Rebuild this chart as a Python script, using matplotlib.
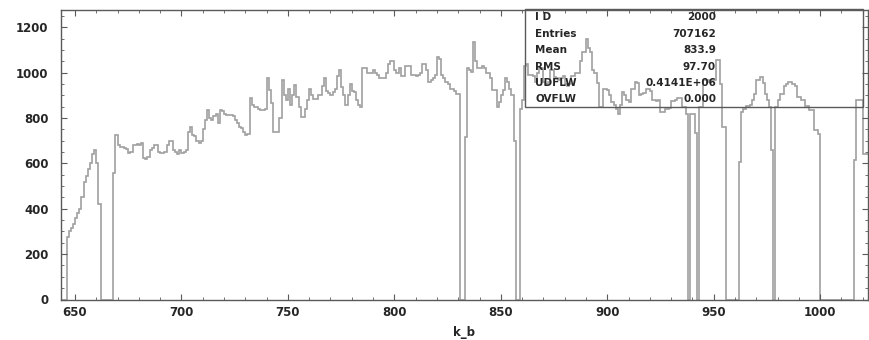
import numpy as np
import matplotlib
matplotlib.use("Agg")
import matplotlib.pyplot as plt
from matplotlib.ticker import MultipleLocator
from matplotlib.patches import Rectangle

# ---- data -------------------------------------------------------------
bin_start = 643          # lower edge of first bin (k_b)
bin_width = 1
counts = [
    0, 0, 0, 275, 300, 315, 335, 360, 380, 400,                 # 643-652
    450, 520, 545, 575, 600, 640, 660, 600, 420, 0,             # 653-662
    0, 0, 0, 0, 0, 556, 724, 680, 672, 672,                     # 663-672
    670, 665, 645, 650, 680, 680, 685, 680, 690, 625,           # 673-682
    620, 630, 660, 670, 680, 680, 650, 645, 645, 650,           # 683-692
    680, 700, 700, 658, 650, 640, 660, 645, 650, 660,           # 693-702
    740, 760, 725, 720, 700, 690, 700, 750, 790, 835,           # 703-712
    800, 790, 810, 820, 780, 835, 830, 820, 815, 815,           # 713-722
    815, 810, 790, 780, 760, 755, 740, 725, 730, 890,           # 723-732
    860, 850, 850, 840, 835, 835, 840, 975, 925, 865,           # 733-742
    740, 740, 740, 800, 970, 900, 880, 930, 856, 900,           # 743-752
    945, 893, 850, 805, 805, 840, 880, 930, 900, 885,           # 753-762
    885, 900, 900, 940, 975, 920, 910, 900, 915, 930,           # 763-772
    985, 1010, 937, 900, 860, 900, 950, 920, 915, 880,          # 773-782
    860, 850, 1020, 1020, 1000, 1000, 1000, 1010, 1000, 990,    # 783-792
    975, 975, 975, 1000, 1040, 1050, 1050, 1010, 1000, 1020,    # 793-802
    985, 985, 1030, 1030, 1030, 988, 990, 985, 990, 1000,       # 803-812
    1040, 1040, 1010, 960, 970, 975, 988, 1070, 1060, 990,      # 813-822
    975, 960, 950, 930, 930, 920, 905, 905, 0, 0,               # 823-832
    716, 1020, 1010, 1005, 1136, 1050, 1020, 1020, 1030, 1020,  # 833-842
    1000, 1000, 975, 925, 925, 850, 870, 900, 925, 975,         # 843-852
    960, 930, 900, 700, 0, 0, 840, 880, 1030, 1040,             # 853-862
    990, 990, 985, 960, 1000, 1020, 1020, 960, 950, 960,        # 863-872
    1010, 1010, 980, 975, 970, 975, 985, 950, 940, 950,         # 873-882
    985, 985, 1000, 1000, 1050, 1092, 1092, 1150, 1110, 1092,   # 883-892
    1010, 1000, 955, 849, 849, 930, 930, 925, 900, 870,         # 893-902
    860, 840, 820, 860, 915, 900, 880, 870, 930, 930,           # 903-912
    960, 955, 900, 905, 910, 930, 930, 920, 880, 880,           # 913-922
    875, 880, 825, 825, 840, 840, 845, 875, 875, 880,           # 923-932
    890, 890, 850, 850, 820, 0, 820, 820, 733, 0,               # 933-942
    850, 850, 967, 967, 960, 967, 967, 970, 1055, 1055,         # 943-952
    950, 760, 760, 0, 0, 0, 0, 0, 0, 606,                       # 953-962
    825, 840, 855, 855, 860, 880, 905, 967, 967, 980,           # 963-972
    955, 905, 880, 849, 658, 0, 849, 880, 905, 905,             # 973-982
    940, 950, 960, 960, 950, 940, 895, 895, 880, 880,           # 983-992
    855, 855, 834, 834, 746, 746, 730, 0, 0, 0,                 # 993-1002
    0, 0, 0, 0, 0, 0, 0, 0, 0, 0,                               # 1003-1012
    0, 0, 0, 614, 880, 880, 880, 640, 640, 640,                 # 1013-1022
]

x_ticks = [650, 700, 750, 800, 850, 900, 950, 1000]
y_ticks = [0, 200, 400, 600, 800, 1000, 1200]

stat_names = ["I D", "Entries", "Mean", "RMS", "UDFLW", "OVFLW"]
stat_values = ["2000", "707162", "833.9", "97.70", "0.4141E+06", "0.000"]

x_label = "k_b"

# ---- figure -------------------------------------------------------------
plt.rcParams['font.family'] = ['DejaVu Sans']
fig = plt.figure(figsize=(8.69, 3.40), dpi=100)
ax = fig.add_axes([61/869, 40.5/340, 807/869, 290/340])

edges = bin_start + bin_width * np.arange(len(counts) + 1)
ax.stairs(counts, edges, color="#a0a0a0", linewidth=1.2, baseline=0)

ax.set_xlim(643.4, 1022.5)
ax.set_ylim(0, 1279)

frame_col = "#5a5a5a"
txt_col = "#262626"
for s in ax.spines.values():
    s.set_color(frame_col)
    s.set_linewidth(1.0)
    s.set_zorder(4)

ax.set_xticks(x_ticks)
ax.set_xticklabels([str(v) for v in x_ticks])
ax.set_yticks(y_ticks)
ax.set_yticklabels([str(v) for v in y_ticks])
ax.xaxis.set_minor_locator(MultipleLocator(10))
ax.yaxis.set_minor_locator(MultipleLocator(50))
ax.tick_params(which="both", direction="in", top=True, right=True,
               colors=frame_col, labelcolor=txt_col)
ax.tick_params(which="major", length=4, width=0.8, labelsize=8.5)
ax.tick_params(which="minor", length=2, width=0.6)
ax.tick_params(axis="y", which="major", pad=9)
ax.tick_params(axis="x", which="major", pad=5)
for lab in ax.get_xticklabels() + ax.get_yticklabels():
    lab.set_fontweight("bold")

ax.set_xlabel(x_label, fontsize=8.5, color=txt_col, labelpad=5,
              fontweight="bold")

# statistics box
bx0 = (525 - 61) / 807
bx1 = (863 - 61) / 807
by0 = (299.5 - 107) / 290
ax.add_patch(Rectangle((bx0, by0), bx1 - bx0, 1.0 - by0,
                       transform=ax.transAxes, fill=False,
                       edgecolor=frame_col, linewidth=1.0, zorder=5,
                       clip_on=False))
row_py = [17, 34, 50, 67, 83, 99]
for name, val, py in zip(stat_names, stat_values, row_py):
    yy = (299.5 - py) / 290
    ax.text((535 - 61) / 807, yy, name, transform=ax.transAxes,
            ha="left", va="center", fontsize=7.5, fontweight="bold",
            color=txt_col, zorder=6)
    ax.text((716 - 61) / 807, yy, val, transform=ax.transAxes,
            ha="right", va="center", fontsize=7.5, fontweight="bold",
            color=txt_col, zorder=6)

fig.savefig("out.png", dpi=100)
